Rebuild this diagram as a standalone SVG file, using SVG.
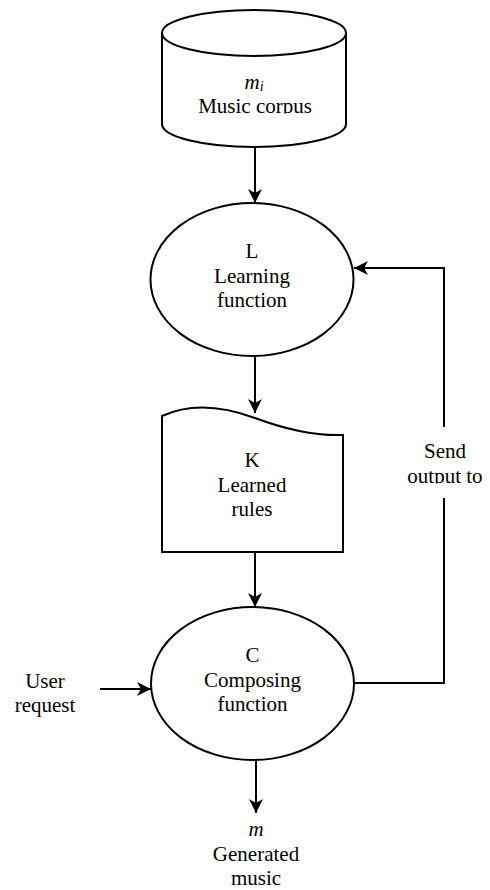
<svg xmlns="http://www.w3.org/2000/svg" width="490" height="890" viewBox="0 0 490 890">
<style>
.shape{fill:#ffffff;stroke:#000000;stroke-width:2}
.conn{fill:none;stroke:#000000;stroke-width:2}
.t{font-family:"Liberation Serif","Times New Roman",serif;font-size:21px;fill:#000000;text-anchor:middle}
.i{font-style:italic}
</style>
<defs>
<marker id="arr" markerUnits="userSpaceOnUse" markerWidth="16" markerHeight="16" refX="14" refY="7" orient="auto">
<path d="M0,0 L14,7 L0,14 L4,7 Z" fill="#000000"/>
</marker>
<clipPath id="cylclip"><rect x="150" y="0" width="210" height="113.5"/></clipPath>
<clipPath id="sendclip"><rect x="380" y="420" width="110" height="63.5"/></clipPath>
</defs>
<rect x="0" y="0" width="490" height="890" fill="#ffffff"/>
<g id="connectors">
<line class="conn" x1="255" y1="147" x2="255" y2="203" marker-end="url(#arr)"/>
<line class="conn" x1="255" y1="356" x2="255" y2="413" marker-end="url(#arr)"/>
<line class="conn" x1="255" y1="552" x2="255" y2="607" marker-end="url(#arr)"/>
<line class="conn" x1="256" y1="760" x2="256" y2="813" marker-end="url(#arr)"/>
<line class="conn" x1="100" y1="689" x2="151" y2="689" marker-end="url(#arr)"/>
<polyline class="conn" points="354,683 444,683 444,498"/>
<polyline class="conn" points="444,427 444,268 354,268" marker-end="url(#arr)"/>
<g clip-path="url(#sendclip)">
<text class="t" x="445" y="458">Send</text>
<text class="t" x="445" y="483">output to</text>
</g>
<text class="t" x="45" y="688">User</text>
<text class="t" x="45" y="712">request</text>
</g>
<g id="corpus">
<path class="shape" d="M162,33 L162,124 A92,23 0 0 0 346,124 L346,33"/>
<ellipse class="shape" cx="254" cy="33" rx="92" ry="23"/>
<g clip-path="url(#cylclip)">
<text class="t" x="254" y="89"><tspan class="i">m</tspan><tspan class="i" font-size="14" dy="2">i</tspan></text>
<text class="t" x="255" y="113">Music corpus</text>
</g>
</g>
<g id="learning">
<ellipse class="shape" cx="252" cy="279.5" rx="101.5" ry="76.5"/>
<text class="t" x="252" y="258">L</text>
<text class="t" x="252" y="283">Learning</text>
<text class="t" x="252" y="307">function</text>
</g>
<g id="rules">
<path class="shape" d="M162,416 C188,404 220,405 255,418 S318,436 343,435 L343,552 L162,552 Z"/>
<text class="t" x="252" y="467">K</text>
<text class="t" x="252" y="492">Learned</text>
<text class="t" x="252" y="516">rules</text>
</g>
<g id="composing">
<ellipse class="shape" cx="252.5" cy="683.5" rx="101.5" ry="76.5"/>
<text class="t" x="252.5" y="662">C</text>
<text class="t" x="252.5" y="687">Composing</text>
<text class="t" x="252.5" y="711">function</text>
</g>
<g id="output">
<text class="t i" x="256" y="836">m</text>
<text class="t" x="256" y="861">Generated</text>
<text class="t" x="256" y="885">music</text>
</g>
</svg>
